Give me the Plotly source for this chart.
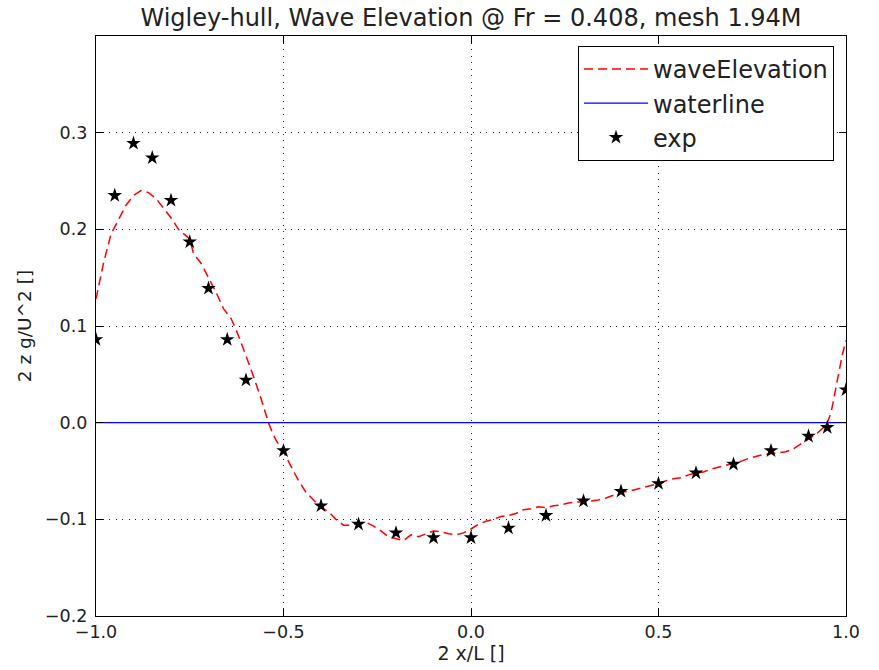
import plotly.graph_objects as go

# Experimental data (stars)
exp_x = [-1.0, -0.95, -0.9, -0.85, -0.8, -0.75, -0.7, -0.65, -0.6, -0.5, -0.4, -0.3, -0.2, -0.1,
         0.0, 0.1, 0.2, 0.3, 0.4, 0.5, 0.6, 0.7, 0.8, 0.9, 0.95, 1.0]
exp_y = [0.086, 0.235, 0.289, 0.274, 0.230, 0.187, 0.139, 0.086, 0.044, -0.029, -0.086, -0.105,
         -0.114, -0.119, -0.119, -0.109, -0.096, -0.081, -0.071, -0.063, -0.052, -0.043, -0.029,
         -0.014, -0.005, 0.034]

# Computed wave elevation (dashed red)
wave_x = [-1.0, -0.98, -0.96, -0.94, -0.92, -0.9, -0.88, -0.86, -0.84, -0.82, -0.8, -0.78, -0.76,
          -0.75, -0.74, -0.72, -0.7, -0.68, -0.66, -0.64, -0.62, -0.6, -0.58, -0.56, -0.55, -0.54,
          -0.53, -0.52, -0.5, -0.48, -0.46, -0.44, -0.42, -0.4, -0.38, -0.36, -0.34, -0.32, -0.3,
          -0.28, -0.26, -0.24, -0.22, -0.2, -0.18, -0.16, -0.14, -0.12, -0.1, -0.08, -0.06, -0.04,
          -0.02, 0.0, 0.02, 0.04, 0.06, 0.08, 0.1, 0.12, 0.14, 0.16, 0.18, 0.2, 0.22, 0.24, 0.26,
          0.28, 0.3, 0.32, 0.34, 0.36, 0.38, 0.4, 0.42, 0.44, 0.46, 0.48, 0.5, 0.52, 0.54, 0.56,
          0.58, 0.6, 0.62, 0.64, 0.66, 0.68, 0.7, 0.72, 0.74, 0.76, 0.78, 0.8, 0.82, 0.84, 0.86,
          0.88, 0.9, 0.92, 0.94, 0.95, 0.96, 0.97, 0.98, 0.99, 1.0]
wave_y = [0.128, 0.165, 0.195, 0.210, 0.225, 0.235, 0.240, 0.238, 0.232, 0.222, 0.212, 0.200, 0.193,
          0.190, 0.175, 0.165, 0.150, 0.135, 0.118, 0.108, 0.090, 0.070, 0.048, 0.025, 0.012, 0.0,
          -0.010, -0.018, -0.030, -0.045, -0.060, -0.072, -0.080, -0.088, -0.092, -0.100, -0.106,
          -0.106, -0.104, -0.103, -0.107, -0.112, -0.118, -0.120, -0.122, -0.116, -0.118, -0.115,
          -0.112, -0.113, -0.115, -0.116, -0.114, -0.110, -0.105, -0.102, -0.100, -0.097, -0.096,
          -0.094, -0.090, -0.089, -0.087, -0.088, -0.086, -0.085, -0.083, -0.082, -0.082, -0.081,
          -0.080, -0.078, -0.075, -0.072, -0.071, -0.069, -0.067, -0.065, -0.063, -0.060, -0.058,
          -0.057, -0.054, -0.052, -0.051, -0.048, -0.046, -0.044, -0.042, -0.040, -0.037, -0.035,
          -0.033, -0.032, -0.031, -0.030, -0.027, -0.022, -0.017, -0.012, -0.005, 0.0, 0.010,
          0.030, 0.050, 0.070, 0.085]

# Waterline
water_x = [-1.0, 1.0]
water_y = [0.0, 0.0]

x_ticks = [-1.0, -0.5, 0.0, 0.5, 1.0]
y_ticks = [-0.2, -0.1, 0.0, 0.1, 0.2, 0.3]

FONT = "DejaVu Sans"

fig = go.Figure()
fig.add_trace(go.Scatter(x=wave_x, y=wave_y, mode="lines", name="waveElevation",
                         legendgroup="a",
                         line=dict(color="red", width=1.5, dash="9px,5px")))
fig.add_trace(go.Scatter(x=water_x, y=water_y, mode="lines", name="waterline",
                         legendgroup="b",
                         line=dict(color="#0000ff", width=1.3)))
fig.add_trace(go.Scatter(x=exp_x, y=exp_y, mode="markers", name="exp",
                         legendgroup="c",
                         marker=dict(symbol="star", color="black", size=11,
                                     line=dict(width=0))))

axis_common = dict(
    showgrid=True, gridcolor="#222", gridwidth=1, griddash="1px,5.5px",
    showline=True, linecolor="black", linewidth=1.3, mirror="allticks",
    ticks="inside", ticklen=7, tickcolor="black", zeroline=False,
    tickfont=dict(family=FONT, size=17.5, color="#222"),
)

fig.update_xaxes(range=[-1.0, 1.0], tickvals=x_ticks, tickformat=".1f",
                 title=dict(text="2 x/L []", font=dict(family=FONT, size=19, color="#222"),
                            standoff=3),
                 **axis_common)
fig.update_yaxes(range=[-0.2, 0.4], tickvals=y_ticks, tickformat=".1f",
                 ticklabelstandoff=4,
                 title=dict(text="2 z g/U^2 []", font=dict(family=FONT, size=18.5, color="#222"),
                            standoff=8),
                 **axis_common)

fig.update_layout(
    width=879, height=670,
    margin=dict(l=96, r=33, t=36, b=51),
    paper_bgcolor="white", plot_bgcolor="white",
    font=dict(family=FONT, color="#222"),
    title=dict(text="Wigley-hull, Wave Elevation @ Fr = 0.408, mesh 1.94M",
               x=0.5, xref="paper", xanchor="center", y=0.973, yref="container",
               yanchor="middle",
               font=dict(family=FONT, size=24, color="#222")),
    legend=dict(x=0.984, y=0.983, xanchor="right", yanchor="top",
                bordercolor="black", borderwidth=1, bgcolor="white",
                font=dict(family=FONT, size=24, color="#222"),
                tracegroupgap=0, itemwidth=64),
    showlegend=True,
)

fig.write_html("out.html")
